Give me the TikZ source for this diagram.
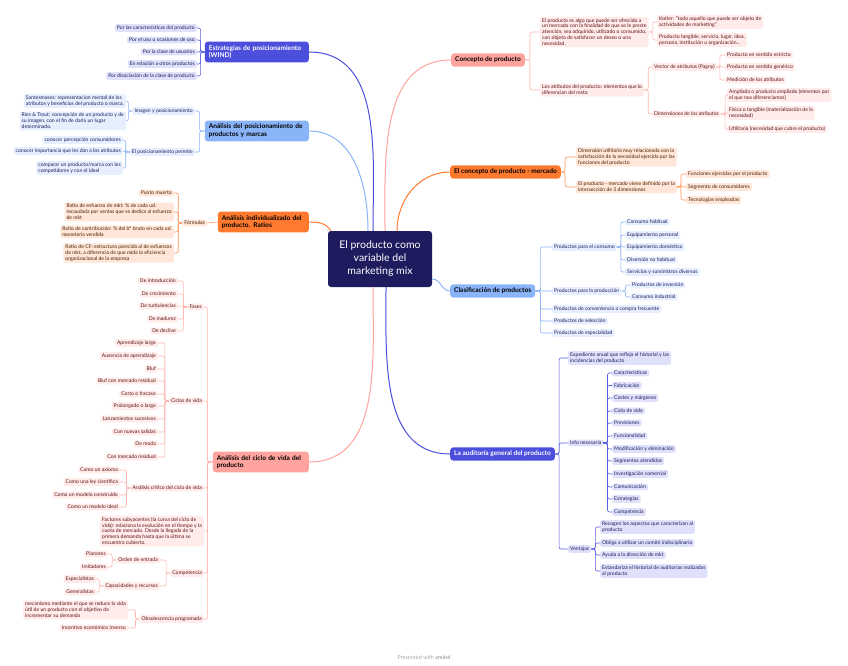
\documentclass[tikz,border=0pt]{standalone}
\usepackage{fontspec}
\setmainfont{Lato}
\usetikzlibrary{positioning}
\definecolor{mmNavy}{HTML}{1E1B5E}
\definecolor{mmViolet}{HTML}{4B4FDB}
\definecolor{mmVioletLeaf}{HTML}{DFE0FA}
\definecolor{mmVioletLine}{HTML}{5A5EE0}
\definecolor{mmBlue}{HTML}{8AB4F8}
\definecolor{mmBlueLeaf}{HTML}{E6EFFD}
\definecolor{mmOrange}{HTML}{FF7A2F}
\definecolor{mmOrangeLeaf}{HTML}{FFE6D8}
\definecolor{mmOrangeLine}{HTML}{FF9457}
\definecolor{mmOrangeInk}{HTML}{4D1F06}
\definecolor{mmSalmon}{HTML}{FFA39E}
\definecolor{mmSalmonLeaf}{HTML}{FFEBEA}
\definecolor{mmSalmonLine}{HTML}{FFB4AF}
\definecolor{mmSalmonInk}{HTML}{5E1414}
\tikzset{leaf/.style = {rounded corners=2pt, inner xsep=2pt, inner ysep=1.5pt, align=left, font=\fontsize{5.1}{5.9}\selectfont}}
\tikzset{leafV/.style = {leaf, fill=mmVioletLeaf, text=mmNavy}}
\tikzset{leafB/.style = {leaf, fill=mmBlueLeaf, text=mmNavy}}
\tikzset{leafO/.style = {leaf, fill=mmOrangeLeaf, text=mmOrangeInk}}
\tikzset{leafS/.style = {leaf, fill=mmSalmonLeaf, text=mmSalmonInk}}
\tikzset{topic/.style = {rounded corners=3pt, inner xsep=4pt, inner ysep=3.5pt, align=left, font=\fontsize{6.6}{7.8}\selectfont\bfseries}}
\tikzset{linkV/.style = {mmVioletLine, line width=0.6pt, rounded corners=2pt}}
\tikzset{linkB/.style = {mmBlue, line width=0.6pt, rounded corners=2pt}}
\tikzset{linkO/.style = {mmOrangeLine, line width=0.6pt, rounded corners=2pt}}
\tikzset{linkS/.style = {mmSalmonLine, line width=0.6pt, rounded corners=2pt}}
\tikzset{branch/.style = {line width=1pt}}
\begin{document}
\begin{tikzpicture}[x=1pt, y=-1pt]
    \useasboundingbox[fill=white] (0,0) rectangle (848,666);

    % central topic
    \node[fill=mmNavy, text=white, rounded corners=3pt, align=center,
          minimum width=104pt, minimum height=56pt,
          font=\fontsize{10.5}{13}\selectfont] (C) at (380,259)
          {El producto como\\variable del\\marketing mix};

    % main topics, left
    \node[topic, fill=mmViolet, text=white, text width=96pt, anchor=east] (WIND) at (309,52) {Estrategias de posicionamiento\\(WIND)};
    \node[topic, fill=mmBlue, text=black, text width=96pt, anchor=east] (PA) at (309,131) {Análisis del posicionamiento de\\productos y marcas};
    \node[topic, fill=mmOrange, text=black, text width=83pt, anchor=east] (RA) at (309,222) {Análisis individualizado del\\producto. Ratios};
    \node[topic, fill=mmSalmon, text=black, text width=88pt, anchor=east] (CV) at (309,462) {Análisis del ciclo de vida del\\producto};

    % main topics, right
    \node[topic, fill=mmSalmon, text=black, anchor=west] (CP) at (451,60) {Concepto de producto};
    \node[topic, fill=mmOrange, text=black, anchor=west] (CM) at (450,172) {El concepto de producto - mercado};
    \node[topic, fill=mmBlue, text=black, anchor=west] (CL) at (450,291) {Clasificación de productos};
    \node[topic, fill=mmViolet, text=white, anchor=west] (AU) at (450,454) {La auditoría general del producto};

    % branches from the centre
    \draw[branch, mmViolet] ([xshift=-7pt]C.north) to[out=90, in=0] (WIND.east);
    \draw[branch, mmBlue] ([xshift=-12pt]C.north) to[out=90, in=0] (PA.east);
    \draw[branch, mmOrange] ([xshift=3pt]C.north west) to[out=120, in=0] (RA.east);
    \draw[branch, mmSalmon] ([xshift=-7pt]C.south) to[out=-90, in=0] (CV.east);
    \draw[branch, mmSalmon] ([xshift=5pt]C.north) to[out=90, in=180] (CP.west);
    \draw[branch, mmOrange] ([xshift=17pt]C.north) to[out=90, in=180] (CM.west);
    \draw[branch, mmBlue] ([yshift=-20pt]C.east) to[out=0, in=180] (CL.west);
    \draw[branch, mmViolet] ([xshift=6pt]C.south) to[out=-90, in=180] (AU.west);

    % WIND
    \foreach \Name/\Y/\Text in {%
        W1/28/{Por las características del producto},
        W2/40/{Por el uso u ocasiones de uso},
        W3/52/{Por la clase de usuarios},
        W4/64/{En relación a otros productos},
        W5/76/{Por disociación de la clase de producto}%
        }
        {
        \node[leafV, anchor=east] (\Name) at (197,\Y) {\Text};
        \draw[linkV] (WIND.west) -- ++(-4,0) |- (\Name.east);
        }

    % posicionamiento
    \node[leafB, anchor=east] (PA1) at (195,111) {Imagen y posicionamiento};
    \node[leafB, anchor=east] (PA2) at (195,152) {El posicionamiento permite};
    \foreach \Name in {PA1,PA2}
        \draw[linkB] (PA.west) -- ++(-5,0) |- (\Name.east);
    \foreach \Name/\Y/\Text in {%
        PA11/101/{Santesmases: representacion mental de los\\atributos y beneficios del producto o marca.},
        PA12/121/{Ries \& Trout: concepción de un producto y de\\su imagen, con el fin de darla un lugar\\determinado.}%
        }
        {
        \node[leafB, anchor=east] (\Name) at (126,\Y) {\Text};
        \draw[linkB] (PA1.west) -- ++(-4,0) |- (\Name.east);
        }
    \foreach \Name/\Y/\Text in {%
        PA21/140/{conocer percepción consumidores},
        PA22/151/{conocer importancia que les dan a los atributos},
        PA23/168/{comparar un producto/marca con los\\competidores y con el ideal}%
        }
        {
        \node[leafB, anchor=east] (\Name) at (123,\Y) {\Text};
        \draw[linkB] (PA2.west) -- ++(-4,0) |- (\Name.east);
        }

    % ratios
    \node[leafO, anchor=east] (RA1) at (207,223) {Fórmulas};
    \draw[linkO] (RA.west) -- (RA1.east);
    \foreach \Name/\Y/\Text in {%
        RA11/193/{Punto muerto},
        RA12/212/{Ratio de esfuerzo de mkt: \% de cada ud.\\recaudada por ventas que se dedica al esfuerzo\\de mkt},
        RA13/232/{Ratio de contribución: \% del bº bruto en cada ud.\\monetaria vendida},
        RA14/253/{Ratio de CF: estructura parecida al de esfuerzos\\de mkt, a diferencia de que mide la eficiencia\\organizacional de la empresa}%
        }
        {
        \node[leafO, anchor=east] (\Name) at (174,\Y) {\Text};
        \draw[linkO] (RA1.west) -- ++(-4,0) |- (\Name.east);
        }

    % ciclo de vida
    \foreach \Name/\Y/\Text in {%
        CV1/307/{Fases},
        CV2/401/{Ciclos de vida},
        CV3/488/{Análisis crítico del ciclo de vida},
        CV4/531/{Factores subyacentes (la curva del ciclo de\\vida): relaciona la evolución en el tiempo y la\\cuota de mercado. Desde la llegada de la\\primera demanda hasta que la última se\\encuentra cubierta.},
        CV5/573/{Competencia},
        CV6/619/{Obsolescencia programada}%
        }
        {
        \node[leafS, anchor=east] (\Name) at (204,\Y) {\Text};
        \draw[linkS] (CV.west) -- ++(-5,0) |- (\Name.east);
        }
    \foreach \Name/\Y/\Text in {%
        F1/281/{De introducción},
        F2/294/{De crecimiento},
        F3/306/{De turbulencias},
        F4/319/{De madurez},
        F5/331/{De declive}%
        }
        {
        \node[leafS, anchor=east] (\Name) at (178,\Y) {\Text};
        \draw[linkS] (CV1.west) -- ++(-4,0) |- (\Name.east);
        }
    \foreach \Name/\Y/\Text in {%
        L1/343/{Aprendizaje largo},
        L2/356/{Ausencia de aprendizaje},
        L3/369/{Bluf},
        L4/381/{Bluf con mercado residual},
        L5/394/{Corto o fracaso},
        L6/406/{Prolongado o largo},
        L7/419/{Lanzamientos sucesivos},
        L8/432/{Con nuevas salidas},
        L9/444/{De moda},
        L10/457/{Con mercado residual}%
        }
        {
        \node[leafS, anchor=east] (\Name) at (158,\Y) {\Text};
        \draw[linkS] (CV2.west) -- ++(-4,0) |- (\Name.east);
        }
    \foreach \Name/\Y/\Text in {%
        A1/470/{Como un axioma},
        A2/482/{Como una ley científica},
        A3/495/{Como un modelo construido},
        A4/507/{Como un modelo ideal}%
        }
        {
        \node[leafS, anchor=east] (\Name) at (120,\Y) {\Text};
        \draw[linkS] (CV3.west) -- ++(-4,0) |- (\Name.east);
        }
    \node[leafS, anchor=east] (K1) at (160,560) {Orden de entrada};
    \node[leafS, anchor=east] (K2) at (160,586) {Capacidades y recursos};
    \foreach \Name in {K1,K2}
        \draw[linkS] (CV5.west) -- ++(-4,0) |- (\Name.east);
    \node[leafS, anchor=east] (K11) at (108,554) {Pioneros};
    \node[leafS, anchor=east] (K12) at (108,567) {Imitadores};
    \node[leafS, anchor=east] (K21) at (96,579) {Especialistas};
    \node[leafS, anchor=east] (K22) at (96,592) {Generalistas};
    \foreach \Source/\Target in {K1/K11, K1/K12, K2/K21, K2/K22}
        \draw[linkS] (\Source.west) -- ++(-4,0) |- (\Target.east);
    \node[leafS, anchor=east] (O1) at (128,610) {mecanismo mediante el que se reduce la vida\\útil de un producto con el objetivo de\\incrementar su demanda};
    \node[leafS, anchor=east] (O2) at (128,628) {Incentivo económico inverso};
    \foreach \Name in {O1,O2}
        \draw[linkS] (CV6.west) -- ++(-4,0) |- (\Name.east);

    % concepto de producto
    \node[leafS, anchor=west] (CP1) at (540,32) {El producto es algo que puede ser ofrecido a\\un mercado con la finalidad de que se le preste\\atención, sea adquirido, utilizado o consumido,\\con objeto de satisfacer un deseo o una\\necesidad.};
    \node[leafS, anchor=west] (CP2) at (540,90) {Los atributos del producto: elementos que lo\\diferencian del resto};
    \foreach \Name in {CP1,CP2}
        \draw[linkS] (CP.east) -- ++(5,0) |- (\Name.west);
    \node[leafS, anchor=west] (CP11) at (657,22) {Kotler: "todo aquello que puede ser objeto de\\actividades de marketing"};
    \node[leafS, anchor=west] (CP12) at (657,40) {Producto tangible, servicio, lugar, idea,\\persona, institución u organización...};
    \foreach \Name in {CP11,CP12}
        \draw[linkS] (CP1.east) -- ++(4,0) |- (\Name.west);
    \node[leafS, anchor=west] (VA) at (652,67) {Vector de atributos (Pagny)};
    \node[leafS, anchor=west] (DA) at (652,114) {Dimensiones de los atributos};
    \foreach \Name in {VA,DA}
        \draw[linkS] (CP2.east) -- ++(4,0) |- (\Name.west);
    \foreach \Name/\Y/\Text in {%
        VA1/55/{Producto en sentido estricto},
        VA2/67/{Producto en sentido genérico},
        VA3/80/{Medición de los atributos}%
        }
        {
        \node[leafS, anchor=west] (\Name) at (725,\Y) {\Text};
        \draw[linkS] (VA.east) -- ++(3,0) |- (\Name.west);
        }
    \foreach \Name/\Y/\Text in {%
        DA1/95/{Ampliada o producto ampliado (elmentos por\\el que nos diferenciamos)},
        DA2/113/{Física o tangible (materialización de la\\necesidad)},
        DA3/129/{Utilitaria (necesidad que cubre el producto)}%
        }
        {
        \node[leafS, anchor=west] (\Name) at (727,\Y) {\Text};
        \draw[linkS] (DA.east) -- ++(4,0) |- (\Name.west);
        }

    % producto - mercado
    \node[leafO, anchor=west] (CM1) at (576,157) {Dimensión utilitaria muy relacionada con la\\satisfacción de la necesidad ejercida por las\\funciones del producto};
    \node[leafO, anchor=west] (CM2) at (576,187) {El producto - mercado viene definido por la\\intersección de 3 dimensiones};
    \foreach \Name in {CM1,CM2}
        \draw[linkO] (CM.east) -- ++(4,0) |- (\Name.west);
    \foreach \Name/\Y/\Text in {%
        CM21/174/{Funciones ejercidas por el producto},
        CM22/187/{Segmento de consumidores},
        CM23/200/{Tecnologías empleadas}%
        }
        {
        \node[leafO, anchor=west] (\Name) at (686,\Y) {\Text};
        \draw[linkO] (CM2.east) -- ++(4,0) |- (\Name.west);
        }

    % clasificacion
    \foreach \Name/\Y/\Text in {%
        CL1/247/{Productos para el consumo},
        CL2/291/{Productos para la producción},
        CL3/309/{Productos de conveniencia o compra frecuente},
        CL4/321/{Productos de selección},
        CL5/333/{Productos de especialidad}%
        }
        {
        \node[leafB, anchor=west] (\Name) at (552,\Y) {\Text};
        \draw[linkB] (CL.east) -- ++(5,0) |- (\Name.west);
        }
    \foreach \Name/\Y/\Text in {%
        CL11/222/{Consumo habitual},
        CL12/235/{Equipamiento personal},
        CL13/247/{Equipamiento doméstico},
        CL14/260/{Diversión no habitual},
        CL15/272/{Servicios y suministros diversos}%
        }
        {
        \node[leafB, anchor=west] (\Name) at (625,\Y) {\Text};
        \draw[linkB] (CL1.east) -- ++(4,0) |- (\Name.west);
        }
    \foreach \Name/\Y/\Text in {%
        CL21/285/{Productos de inversión},
        CL22/297/{Consumo industrial}%
        }
        {
        \node[leafB, anchor=west] (\Name) at (630,\Y) {\Text};
        \draw[linkB] (CL2.east) -- ++(4,0) |- (\Name.west);
        }

    % auditoria
    \foreach \Name/\Y/\Text in {%
        AU1/358/{Expediente anual que refleja el historial y las\\incidencias del producto},
        AU2/443/{Info necesaria},
        AU3/549/{Ventajas}%
        }
        {
        \node[leafV, anchor=west] (\Name) at (568,\Y) {\Text};
        \draw[linkV] (AU.east) -- ++(4,0) |- (\Name.west);
        }
    \foreach \Name/\Y/\Text in {%
        I1/373/{Características},
        I2/385.5/{Fabricación},
        I3/398/{Costes y márgenes},
        I4/411/{Ciclo de vida},
        I5/423/{Previsiones},
        I6/436/{Funcionalidad},
        I7/449/{Modificación y eliminación},
        I8/461/{Segmentos atendidos},
        I9/474/{Investigación comercial},
        I10/487/{Comunicación},
        I11/499/{Estrategias},
        I12/512/{Competencia}%
        }
        {
        \node[leafV, anchor=west] (\Name) at (612,\Y) {\Text};
        \draw[linkV] (AU2.east) -- ++(4,0) |- (\Name.west);
        }
    \foreach \Name/\Y/\Text in {%
        V1/527/{Recogen los aspectos que caracterizan al\\producto},
        V2/543/{Obliga a utilizar un comité indisciplinario},
        V3/555/{Ayuda a la dirección de mkt},
        V4/571/{Estandariza el historial de auditorias realizadas\\al producto}%
        }
        {
        \node[leafV, anchor=west] (\Name) at (600,\Y) {\Text};
        \draw[linkV] (AU3.east) -- ++(4,0) |- (\Name.west);
        }

    % footer
    \node[font=\fontsize{5.5}{6.5}\selectfont, text=black!35] (footer) at (424,657) {Presented with \textbf{xmind}};
\end{tikzpicture}
\end{document}
